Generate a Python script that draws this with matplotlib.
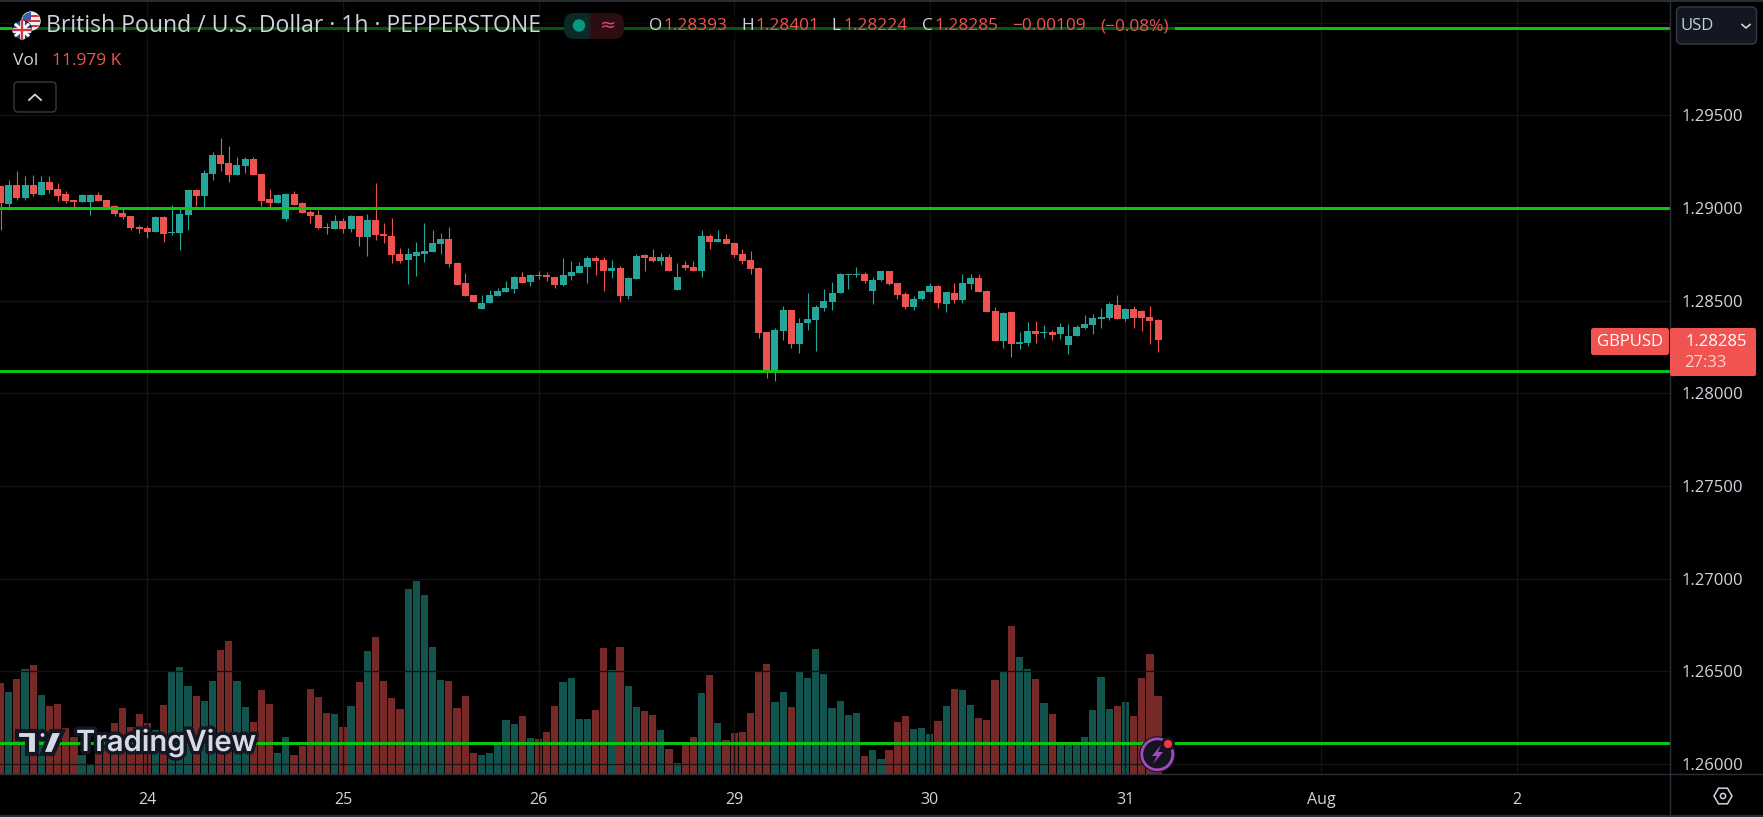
import matplotlib
matplotlib.use('Agg')
import matplotlib.pyplot as plt
import matplotlib.patheffects as pe
from matplotlib.patches import Circle, FancyBboxPatch, Polygon, Rectangle
import numpy as np

# ---- data (prices in 1e-5 units, volume in thousands) ----
opens = [
    129119, 129021, 129124, 129054, 129124, 129070, 129140, 129102, 129075, 129043,
    129032, 129032, 129070, 129043, 129011, 128973, 128957, 128897, 128892, 128870,
    128951, 128865, 128865, 128962, 129097, 129065, 129183, 129286, 129243, 129178,
    129227, 129264, 129183, 129048, 129027, 128940, 129075, 129027, 128978, 128962,
    128897, 128886, 128930, 128886, 128957, 128843, 128935, 128859, 128849, 128751,
    128719, 128741, 128751, 128762, 128805, 128832, 128703, 128595, 128530, 128454,
    128487, 128525, 128546, 128562, 128627, 128600, 128638, 128638, 128627, 128584,
    128633, 128649, 128681, 128730, 128719, 128660, 128676, 128525, 128616, 128746,
    128735, 128714, 128735, 128557, 128692, 128681, 128660, 128849, 128816, 128832,
    128811, 128751, 128719, 128676, 128330, 128125, 128336, 128449, 128265, 128379,
    128395, 128460, 128492, 128541, 128638, 128638, 128643, 128552, 128611, 128660,
    128595, 128535, 128465, 128508, 128546, 128579, 128481, 128541, 128503, 128589,
    128622, 128552, 128444, 128282, 128438, 128265, 128271, 128336, 128325, 128330,
    128319, 128260, 128309, 128352, 128368, 128400, 128406, 128476, 128400, 128454,
    128444, 128411, 128393,
]
highs = [
    129124, 129151, 129200, 129173, 129178, 129173, 129173, 129135, 129092, 129043,
    129075, 129075, 129086, 129043, 129016, 129000, 128957, 128908, 128903, 128957,
    128957, 129016, 129000, 129097, 129102, 129205, 129302, 129378, 129335, 129275,
    129275, 129275, 129183, 129102, 129075, 129081, 129092, 129032, 128989, 128989,
    128919, 128962, 128946, 128962, 128957, 128967, 129135, 128919, 128946, 128784,
    128784, 128816, 128919, 128881, 128865, 128897, 128708, 128649, 128530, 128530,
    128557, 128568, 128606, 128633, 128654, 128643, 128660, 128654, 128627, 128730,
    128714, 128708, 128741, 128741, 128735, 128719, 128687, 128627, 128751, 128751,
    128778, 128757, 128751, 128703, 128714, 128714, 128881, 128859, 128881, 128859,
    128816, 128778, 128768, 128681, 128330, 128352, 128471, 128449, 128406, 128541,
    128476, 128562, 128600, 128649, 128643, 128681, 128654, 128627, 128660, 128660,
    128595, 128546, 128525, 128557, 128595, 128584, 128546, 128595, 128643, 128643,
    128643, 128557, 128465, 128438, 128438, 128330, 128384, 128390, 128368, 128341,
    128379, 128373, 128368, 128422, 128427, 128460, 128492, 128530, 128460, 128470,
    128449, 128470, 128401,
]
lows = [
    128881, 128989, 129043, 129043, 129065, 129070, 129081, 129038, 129027, 129003,
    129032, 128962, 129038, 129005, 128957, 128940, 128881, 128865, 128838, 128870,
    128816, 128854, 128773, 128881, 129011, 129005, 129151, 129200, 129140, 129178,
    129189, 129178, 129011, 128994, 129027, 128930, 129016, 128973, 128919, 128886,
    128859, 128886, 128865, 128870, 128795, 128741, 128827, 128811, 128703, 128703,
    128589, 128633, 128708, 128762, 128751, 128681, 128584, 128525, 128492, 128454,
    128487, 128525, 128546, 128541, 128595, 128579, 128616, 128606, 128568, 128579,
    128611, 128649, 128595, 128638, 128552, 128622, 128492, 128508, 128616, 128660,
    128708, 128692, 128660, 128557, 128665, 128660, 128627, 128778, 128816, 128805,
    128735, 128697, 128643, 128298, 128082, 128066, 128287, 128244, 128217, 128341,
    128228, 128444, 128449, 128541, 128562, 128627, 128595, 128481, 128606, 128584,
    128508, 128454, 128449, 128503, 128546, 128460, 128438, 128487, 128487, 128562,
    128546, 128438, 128282, 128244, 128195, 128238, 128255, 128271, 128298, 128287,
    128292, 128211, 128309, 128346, 128319, 128352, 128395, 128400, 128390, 128352,
    128336, 128265, 128224,
]
closes = [
    129027, 129124, 129054, 129124, 129075, 129140, 129097, 129065, 129038, 129032,
    129070, 129070, 129038, 129005, 128967, 128951, 128892, 128886, 128870, 128951,
    128859, 128870, 128967, 129097, 129065, 129189, 129286, 129237, 129178, 129232,
    129264, 129178, 129038, 129027, 129070, 129075, 129016, 128973, 128957, 128892,
    128892, 128930, 128886, 128957, 128843, 128935, 128854, 128849, 128746, 128714,
    128751, 128762, 128768, 128811, 128832, 128697, 128584, 128525, 128492, 128487,
    128530, 128552, 128568, 128627, 128595, 128638, 128634, 128627, 128584, 128638,
    128654, 128687, 128730, 128714, 128660, 128676, 128525, 128622, 128741, 128730,
    128714, 128735, 128660, 128627, 128676, 128660, 128849, 128816, 128832, 128805,
    128746, 128714, 128670, 128325, 128125, 128341, 128449, 128265, 128379, 128400,
    128465, 128498, 128541, 128643, 128643, 128643, 128606, 128611, 128660, 128589,
    128530, 128465, 128508, 128552, 128579, 128487, 128546, 128503, 128595, 128622,
    128546, 128438, 128282, 128433, 128265, 128276, 128336, 128319, 128330, 128314,
    128357, 128309, 128357, 128373, 128406, 128411, 128481, 128400, 128454, 128406,
    128406, 128390, 128285,
]
volumes = [
    13.98, 12.60, 14.59, 16.13, 16.74, 12.13, 10.44, 10.75, 7.01, 5.73,
    2.92, 1.54, 4.20, 5.22, 7.83, 10.14, 7.17, 9.22, 7.83, 6.76,
    10.60, 15.82, 16.44, 13.52, 11.98, 11.21, 14.28, 19.05, 20.43, 14.28,
    10.29, 7.99, 12.90, 10.75, 3.23, 5.68, 2.92, 4.30, 13.06, 11.83,
    9.37, 9.22, 7.22, 10.44, 14.13, 18.89, 21.04, 14.28, 11.67, 9.98,
    28.42, 29.64, 27.49, 19.51, 14.44, 14.28, 10.14, 11.98, 3.23, 2.92,
    3.23, 4.76, 8.29, 7.68, 8.91, 5.53, 5.38, 6.45, 10.44, 14.13,
    14.75, 8.45, 8.45, 9.83, 19.35, 15.97, 19.51, 13.52, 10.29, 9.68,
    9.06, 6.76, 3.84, 1.69, 4.45, 5.68, 12.44, 15.21, 7.83, 5.22,
    6.30, 6.45, 9.37, 15.82, 16.90, 11.06, 12.60, 10.29, 15.82, 14.75,
    19.20, 15.36, 10.14, 11.21, 9.06, 9.37, 2.76, 3.69, 2.30, 3.69,
    7.99, 8.91, 6.91, 7.07, 6.14, 8.14, 10.44, 13.06, 12.90, 10.60,
    8.60, 8.29, 14.44, 15.82, 22.73, 17.97, 16.13, 14.59, 10.91, 9.22,
    4.92, 4.45, 4.92, 5.68, 9.83, 14.90, 9.98, 10.44, 11.06, 8.91,
    14.75, 18.43, 11.979,
]
levels = [1.29969, 1.29000, 1.28120, 1.26115]     # drawn horizontal lines
price_ticks = [1.26, 1.265, 1.27, 1.275, 1.28, 1.285, 1.29, 1.295, 1.30]
day_ticks = [18, 42, 66, 90, 114, 138, 162, 186]  # bar index of each session start
day_labels = ['24', '25', '26', '29', '30', '31', 'Aug', '2']

# ---- config ----
W, H = 1763, 817
PANE_R, PANE_B = 1670, 774
BG = '#000000'
UP, DOWN = '#26a69a', '#ef5350'
TEXT = '#d1d4dc'
LEVEL = '#0cc80f'
GRID = '#131313'
BORDER = '#2a2e39'

plt.rcParams['font.family'] = ['Open Sans', 'DejaVu Sans']

o = np.array(opens) / 1e5
h = np.array(highs) / 1e5
l = np.array(lows) / 1e5
c = np.array(closes) / 1e5
v = np.array(volumes)
x = np.arange(len(o))
colors = [UP if ci >= oi else DOWN for oi, ci in zip(o, c)]

fig = plt.figure(figsize=(W / 100, H / 100), dpi=100, facecolor=BG)
ax = fig.add_axes([0, (H - PANE_B) / H, PANE_R / W, PANE_B / H])
ax_vol = ax.twinx()

# price pane goes over the volume bars
ax.set_zorder(ax_vol.get_zorder() + 1)
ax.patch.set_visible(False)
ax_vol.set_facecolor(BG)

# ---------------- Volume ----------------
ax_vol.bar(x, v, width=0.88, color=colors, alpha=0.5, linewidth=0)
ax_vol.set_ylim(0, 118.9)
ax_vol.set_yticks([])

# ---------------- Candles ----------------
ax.vlines(x, l, h, colors=colors, linewidth=0.8, zorder=3)
ax.bar(x, np.abs(c - o), bottom=np.minimum(o, c), width=0.86, color=colors,
       linewidth=0, zorder=4)
for lv in levels:
    ax.axhline(lv, color=LEVEL, linewidth=2.1, zorder=5)

ax.set_xlim(-0.07, 204.8)
ax.set_ylim(1.259458, 1.301222)
ax.set_xticks(day_ticks)
ax.set_xticklabels(day_labels)
ax.set_yticks(price_ticks)
ax.set_yticklabels([f'{p:.5f}' if p < 1.3 else '' for p in price_ticks])
ax.yaxis.tick_right()
ax.tick_params(axis='x', length=0, pad=13, labelsize=11.5, colors=TEXT)
ax.tick_params(axis='y', length=0, pad=8, labelsize=12, colors=TEXT)
ax.grid(True, color=GRID, linewidth=1, zorder=0)
ax.set_axisbelow(True)
for a in (ax, ax_vol):
    for s in a.spines.values():
        s.set_visible(False)

# ---------------- Overlay in screen pixels ----------------
ov = fig.add_axes([0, 0, 1, 1])
ov.set_zorder(10)
ov.set_xlim(0, W)
ov.set_ylim(H, 0)
ov.axis('off')
ov.patch.set_visible(False)

ov.plot([PANE_R, PANE_R], [0, H], color=BORDER, lw=1)
ov.plot([0, W], [PANE_B, PANE_B], color=BORDER, lw=1)
ov.plot([0, W], [0.7, 0.7], color=BORDER, lw=1.4)
ov.plot([0, W], [816.3, 816.3], color=BORDER, lw=1.4)

# legend backdrop dims the top line
ov.add_patch(Rectangle((12, 14), 1163, 24, color='black', alpha=0.55, lw=0, zorder=1))


def rounded(x0, y0, x1, y1, r, **kw):
    ov.add_patch(FancyBboxPatch((x0 + r, y0 + r), x1 - x0 - 2 * r, y1 - y0 - 2 * r,
                                boxstyle=f'round,pad={r},rounding_size={r}', **kw))


def label(px, py, s, **kw):
    kw.setdefault('va', 'center')
    kw.setdefault('color', TEXT)
    return ov.text(px, py, s, zorder=6, **kw)


# flags
us = Circle((31, 21), 9, color='#f0f0f0', zorder=3)
ov.add_patch(us)
for yy in (15, 20, 25):
    ov.add_patch(Rectangle((23, yy), 18, 2.2, color='#d8343f', lw=0, zorder=3.1, clip_path=us))
ov.add_patch(Rectangle((22, 12), 9, 8, color='#3d5aa8', lw=0, zorder=3.2, clip_path=us))
uk = Circle((22, 30), 9.5, color='#2a4a9c', ec='#101010', lw=0.8, zorder=4)
ov.add_patch(uk)
ov.plot([14, 30], [23, 37], color='white', lw=2, zorder=4.1, clip_path=uk)
ov.plot([14, 30], [37, 23], color='white', lw=2, zorder=4.1, clip_path=uk)
ov.plot([22, 22], [20, 40], color='white', lw=3.4, zorder=4.2, clip_path=uk)
ov.plot([12, 32], [30, 30], color='white', lw=3.4, zorder=4.2, clip_path=uk)
ov.plot([22, 22], [20, 40], color='#d8343f', lw=1.7, zorder=4.3, clip_path=uk)
ov.plot([12, 32], [30, 30], color='#d8343f', lw=1.7, zorder=4.3, clip_path=uk)

# header texts
label(46, 26, 'British Pound / U.S. Dollar · 1h · PEPPERSTONE', fontsize=16.6)
rounded(564, 13, 597, 39, 10, fc='#0a2a27', ec='none', zorder=2)
rounded(590, 13, 624, 39, 10, fc='#2c0d12', ec='none', zorder=2)
ov.add_patch(Rectangle((590, 13), 8, 26, fc='#2c0d12', lw=0, zorder=2.1))
ov.add_patch(Circle((579, 25.5), 5.5, color='#089981', zorder=3))
label(608, 25, '≈', color='#e0457b', fontsize=14, ha='center', family=['DejaVu Sans'])

for px, s in [(649, 'O'), (741, 'H'), (831, 'L'), (922, 'C')]:
    label(px, 26, s, fontsize=12.4)
for px, s in [(663, '1.28393'), (755, '1.28401'), (843, '1.28224'), (934, '1.28285'),
              (1012, '−0.00109'), (1100, '(−0.08%)')]:
    label(px, 26, s, fontsize=12.4, color=DOWN)

label(13, 61, 'Vol', fontsize=12.5)
label(52, 61, '11.979 K', fontsize=12.5, color=DOWN)

# collapse button
rounded(14, 82, 56, 112, 4, fc='black', ec='#363a45', lw=1, zorder=2)
ov.plot([29, 35, 41], [100, 94.5, 100], color=TEXT, lw=1.3, zorder=3)

# currency button, covers the 1.30000 grid label
rounded(1676.5, 7, 1756.5, 44, 5, fc='#131722', ec='#363a45', lw=1, zorder=2)
label(1681, 26, 'USD', fontsize=12, color='#c5d0e0')
ov.plot([1742, 1746, 1750], [24.5, 28, 24.5], color=TEXT, lw=1.2, zorder=3)

# last price tags
rounded(1591, 328, 1669, 355, 2.5, fc='#f05350', ec='none', zorder=2)
label(1629.5, 342, 'GBPUSD', fontsize=12, color='white', ha='center', weight='medium')
rounded(1670, 328, 1756, 376, 2, fc='#f05350', ec='none', zorder=2)
label(1716, 342, '1.28285', fontsize=12, color='white', ha='center', weight='medium')
label(1684, 363, '27:33', fontsize=12, color='#fbd2d0')

# TradingView watermark
outline = [pe.withStroke(linewidth=5, foreground='#131722')]
logo = '#d6d9e6'
tv_t = Polygon([(17, 731), (37, 731), (37, 754), (27, 754), (27, 739), (17, 739)],
               fc=logo, ec='#131722', lw=3, zorder=5, joinstyle='miter')
tv_s = Polygon([(51, 731), (63, 731), (53, 754), (42, 754)],
               fc=logo, ec='#131722', lw=3, zorder=5)
tv_d = Circle((42.5, 735), 4, fc=logo, ec='#131722', lw=3, zorder=5)
for p in (tv_t, tv_s, tv_d):
    ov.add_patch(p)
label(76, 743, 'TradingView', fontsize=21, color=logo, weight='semibold',
      family=['Inter', 'DejaVu Sans'], path_effects=outline)

# lightning badge
ov.add_patch(Circle((1157.3, 754.3), 18, fc='#14141f', lw=0, zorder=5))
ov.add_patch(Circle((1157.3, 754.3), 15.5, fc='#14141f', ec='#a24bc0', lw=2, zorder=5.1))
ov.add_patch(Polygon([(1161, 745), (1152, 756), (1157, 756), (1153, 764),
                      (1163, 752), (1158, 752)], fc='#a24bc0', lw=0, zorder=5.2))
ov.add_patch(Circle((1168, 744), 5.5, fc='#f23645', ec='#14141f', lw=2, zorder=5.3))

# settings icon
ang = np.deg2rad(np.arange(0, 360, 60))
ov.add_patch(Polygon(np.c_[1723 + 9 * np.cos(ang), 796 + 9 * np.sin(ang)], fc='none',
                     ec=TEXT, lw=1.1, zorder=5))
ov.add_patch(Circle((1723, 796), 2.6, fc='none', ec=TEXT, lw=1.1, zorder=5))

fig.savefig('out.png', dpi=100, facecolor=BG)
